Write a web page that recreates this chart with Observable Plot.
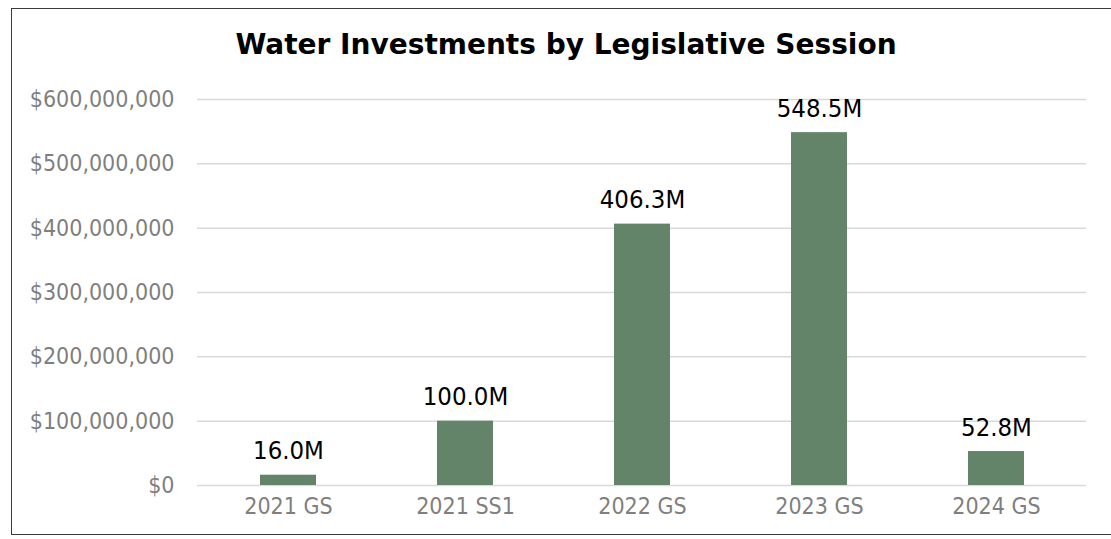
<!DOCTYPE html>
<html><head><meta charset="utf-8">
<script src="https://cdn.jsdelivr.net/npm/d3@7"></script>
<script src="https://cdn.jsdelivr.net/npm/@observablehq/plot@0.6"></script>
<style>
html,body{margin:0;padding:0;background:#fff;}
#wrap{position:relative;width:1111px;height:539px;overflow:hidden;font-family:"DejaVu Sans Condensed","DejaVu Sans",sans-serif;font-stretch:condensed;}
#frame{position:absolute;left:11px;top:8px;width:1110px;height:527px;border:1.5px solid #3a3a3a;box-sizing:border-box;}
#title{position:absolute;left:0;width:1132px;top:29px;text-align:center;font-family:"DejaVu Sans",sans-serif;font-stretch:normal;font-weight:bold;font-size:28px;color:#000;line-height:32px;}
#chart{position:absolute;left:0;top:0;}
</style></head>
<body><div id="wrap"><div id="frame"></div><div id="title">Water Investments by Legislative Session</div><div id="chart"></div></div>
<script>
const sessions = ["2021 GS","2021 SS1","2022 GS","2023 GS","2024 GS"];
const amounts = [16.0e6, 100.0e6, 406.3e6, 548.5e6, 52.8e6];
const yTicks = [0,100e6,200e6,300e6,400e6,500e6,600e6];

const data = sessions.map((s,i)=>({session:s, amount:amounts[i]}));
const fmtM = v => (v/1e6).toFixed(1) + "M";
const fmtD = v => "$" + d3.format(",")(v);

const plot = Plot.plot({
  width:1111, height:539,
  marginLeft:197, marginRight:25, marginTop:99, marginBottom:54,
  style:{fontFamily:'"DejaVu Sans Condensed","DejaVu Sans",sans-serif', fontStretch:"condensed", fontSize:"23px", background:"transparent", overflow:"visible"},
  x:{domain:sessions, paddingInner:0.685, paddingOuter:0.3425, label:null, tickSize:0, tickPadding:12},
  y:{domain:[0,600e6], ticks:yTicks, tickFormat:fmtD, label:null, tickSize:0, tickPadding:23},
  marks:[
    Plot.gridY(yTicks, {stroke:"#d9d9d9", strokeOpacity:1, strokeWidth:1.5}),
    Plot.barY(data, {x:"session", y:"amount", fill:"#64846a"}),
    Plot.text(data, {x:"session", y:"amount", text:d=>fmtM(d.amount), lineAnchor:"bottom", dy:-16, fill:"#000", fontSize:25.5, fontFamily:'"DejaVu Sans",sans-serif', fontStretch:"normal"}),
    Plot.axisX({tickSize:0, tickPadding:12, fill:"#7f7f7f", fontSize:23}),
    Plot.axisY({ticks:yTicks, tickFormat:fmtD, tickSize:0, tickPadding:23, fill:"#7f7f7f", fontSize:23})
  ]
});
document.getElementById("chart").appendChild(plot);
</script></body></html>
